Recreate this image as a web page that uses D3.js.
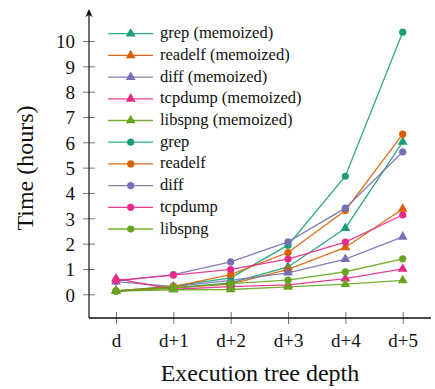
<!DOCTYPE html>
<html>
<head>
<meta charset="utf-8">
<script src="https://cdn.jsdelivr.net/npm/d3@7"></script>
<style>
  html, body { margin: 0; padding: 0; background: #fff; }
  svg { display: block; }
  svg text { font-family: "Liberation Serif", "DejaVu Serif", serif; fill: #111; }
</style>
</head>
<body>
<svg id="chart" width="435" height="389"></svg>
<script>
// Execution tree depth levels
const depths = ["d", "d+1", "d+2", "d+3", "d+4", "d+5"];
const yTicks = [0, 1, 2, 3, 4, 5, 6, 7, 8, 9, 10];

// Running time in hours, memoized runs
const grepMemo    = [0.13, 0.25, 0.45, 1.08, 2.61, 6.02];
const readelfMemo = [0.13, 0.25, 0.40, 0.98, 1.85, 3.37];
const diffMemo    = [0.50, 0.30, 0.55, 0.85, 1.39, 2.27];
const tcpdumpMemo = [0.62, 0.20, 0.30, 0.37, 0.62, 1.00];
const libspngMemo = [0.13, 0.18, 0.19, 0.29, 0.40, 0.55];

// Running time in hours, plain runs
const grep    = [0.13, 0.32, 0.65, 1.94, 4.66, 10.35];
const readelf = [0.13, 0.30, 0.78, 1.65, 3.31, 6.32];
const diff    = [0.52, 0.78, 1.28, 2.07, 3.40, 5.62];
const tcpdump = [0.55, 0.76, 0.98, 1.39, 2.06, 3.13];
const libspng = [0.13, 0.25, 0.42, 0.56, 0.89, 1.40];

const colors = {
  grep: "#1b9e77", readelf: "#d95f02", diff: "#7570b3",
  tcpdump: "#e7298a", libspng: "#66a61e"
};

const series = [
  { name: "grep (memoized)",    values: grepMemo,    color: colors.grep,    marker: "triangle" },
  { name: "readelf (memoized)", values: readelfMemo, color: colors.readelf, marker: "triangle" },
  { name: "diff (memoized)",    values: diffMemo,    color: colors.diff,    marker: "triangle" },
  { name: "tcpdump (memoized)", values: tcpdumpMemo, color: colors.tcpdump, marker: "triangle" },
  { name: "libspng (memoized)", values: libspngMemo, color: colors.libspng, marker: "triangle" },
  { name: "grep",    values: grep,    color: colors.grep,    marker: "circle" },
  { name: "readelf", values: readelf, color: colors.readelf, marker: "circle" },
  { name: "diff",    values: diff,    color: colors.diff,    marker: "circle" },
  { name: "tcpdump", values: tcpdump, color: colors.tcpdump, marker: "circle" },
  { name: "libspng", values: libspng, color: colors.libspng, marker: "circle" }
];

const svg = d3.select("#chart");
const axisX = 89, axisBottom = 318, axisRight = 431, axisTop = 9;

const x = d3.scalePoint().domain(depths).range([116, 402.7]);
const y = d3.scaleLinear().domain([0, 10]).range([294.3, 41]);

// Bottom axis: ticks crossing the axis line, labels below
const gx = svg.append("g").attr("transform", `translate(0,${axisBottom})`)
  .call(d3.axisBottom(x).tickSize(0));
gx.select(".domain").remove();
gx.selectAll(".tick").append("line")
  .attr("y1", -6).attr("y2", 6).attr("stroke", "#777").attr("stroke-width", 1);
gx.selectAll(".tick text")
  .attr("y", 28.7).attr("dy", null)
  .style("font-family", "'Liberation Serif', serif").style("font-size", "19px");

// Left axis
const gy = svg.append("g").attr("transform", `translate(${axisX},0)`)
  .call(d3.axisLeft(y).tickValues(yTicks).tickSize(0));
gy.select(".domain").remove();
gy.selectAll(".tick").append("line")
  .attr("x1", -6).attr("x2", 6).attr("stroke", "#777").attr("stroke-width", 1);
gy.selectAll(".tick text")
  .attr("x", -14).attr("dy", "0.36em")
  .style("font-family", "'Liberation Serif', serif").style("font-size", "19px");

svg.append("line").attr("x1", axisX).attr("x2", axisRight)
  .attr("y1", axisBottom).attr("y2", axisBottom)
  .attr("stroke", "#111").attr("stroke-width", 1.3);
svg.append("line").attr("x1", axisX).attr("x2", axisX)
  .attr("y1", axisBottom).attr("y2", axisTop + 3)
  .attr("stroke", "#222").attr("stroke-width", 1.3);
svg.append("path")
  .attr("d", `M${axisX},${axisTop} L${axisX - 3.5},${axisTop + 8} L${axisX},${axisTop + 6} L${axisX + 3.5},${axisTop + 8} Z`)
  .attr("fill", "#111");

// Axis titles
svg.append("text").attr("x", 260).attr("y", 381).attr("text-anchor", "middle")
  .style("font-size", "24px").text("Execution tree depth");
svg.append("text").attr("transform", "translate(33,168) rotate(-90)")
  .attr("text-anchor", "middle").style("font-size", "24px")
  .text("Time (hours)");

// Marker shapes
const triPath = d3.symbol().type(d3.symbolTriangle).size(42);
function drawMarker(g, m, color) {
  if (m === "circle") {
    g.append("circle").attr("r", 3.6).attr("fill", color);
  } else {
    g.append("path").attr("d", triPath()).attr("fill", color);
  }
}

// Lines and markers
const line = d3.line().x((v, i) => x(depths[i])).y(v => y(v));
series.forEach(s => {
  svg.append("path").datum(s.values).attr("d", line)
    .attr("fill", "none").attr("stroke", s.color)
    .attr("stroke-width", 1.3).attr("stroke-opacity", 0.9);
  s.values.forEach((v, i) => {
    const g = svg.append("g").attr("transform", `translate(${x(depths[i])},${y(v)})`);
    drawMarker(g, s.marker, s.color);
  });
});

// Legend
const legend = svg.append("g");
series.forEach((s, i) => {
  const ly = 33.7 + i * 21.7;
  const g = legend.append("g").attr("transform", `translate(0,${ly})`);
  g.append("line").attr("x1", 108).attr("x2", 153).attr("y1", 0).attr("y2", 0)
    .attr("stroke", s.color).attr("stroke-width", 1.3).attr("stroke-opacity", 0.9);
  const mg = g.append("g").attr("transform", "translate(130.7,0)");
  drawMarker(mg, s.marker, s.color);
  g.append("text").attr("x", 160).attr("y", 4.5)
    .style("font-size", "16.5px").text(s.name);
});
</script>
</body>
</html>
